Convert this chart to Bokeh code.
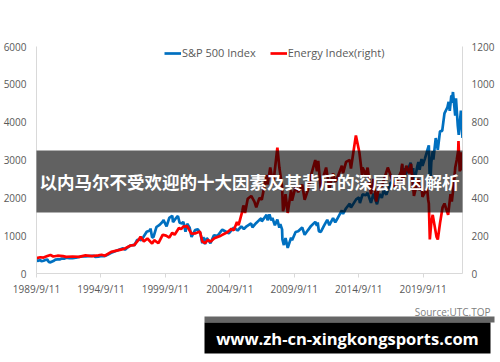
import pandas as pd
from bokeh.plotting import figure
from bokeh.layouts import column
from bokeh.core.properties import value
from bokeh.models import (Range1d, LinearAxis, FixedTicker, CustomJSTickFormatter,
                          BoxAnnotation, Label)
from bokeh.embed import file_html
from bokeh.resources import INLINE

# ---------------- data ----------------
series_names = ["S&P 500 Index", "Energy Index(right)"]

sp_dates = [
    "1989-09-11", "1989-10-13", "1989-12-29", "1990-01-30", "1990-03-30", "1990-05-31",
    "1990-07-16", "1990-08-23", "1990-10-11", "1990-12-31", "1991-02-28", "1991-04-30",
    "1991-06-28", "1991-08-30", "1991-10-31", "1991-12-31", "1992-03-31", "1992-06-30",
    "1992-09-30", "1992-12-31", "1993-03-31", "1993-06-30", "1993-09-30", "1993-12-31",
    "1994-02-28", "1994-04-04", "1994-06-30", "1994-09-30", "1994-12-30", "1995-03-31",
    "1995-06-30", "1995-09-29", "1995-12-29", "1996-03-29", "1996-05-31", "1996-07-24",
    "1996-09-30", "1996-12-31", "1997-03-31", "1997-04-11", "1997-06-30", "1997-08-29",
    "1997-10-27", "1997-12-31", "1998-03-31", "1998-06-30", "1998-07-17", "1998-08-31",
    "1998-10-08", "1998-12-31", "1999-03-31", "1999-06-30", "1999-07-16", "1999-10-15",
    "1999-12-31", "2000-03-24", "2000-04-14", "2000-06-30", "2000-09-01", "2000-10-18",
    "2000-12-29", "2001-01-31", "2001-04-04", "2001-05-21", "2001-07-31", "2001-09-21",
    "2001-12-31", "2002-03-19", "2002-05-31", "2002-07-23", "2002-08-22", "2002-10-09",
    "2002-11-27", "2003-03-11", "2003-06-17", "2003-09-30", "2003-12-31", "2004-02-11",
    "2004-08-12", "2004-12-31", "2005-04-20", "2005-08-02", "2005-10-13", "2005-12-30",
    "2006-05-05", "2006-06-13", "2006-09-29", "2006-12-29", "2007-02-20", "2007-03-05",
    "2007-07-19", "2007-08-15", "2007-10-09", "2007-11-26", "2007-12-31", "2008-03-10",
    "2008-05-19", "2008-07-15", "2008-08-11", "2008-09-30", "2008-10-10", "2008-11-20",
    "2009-01-06", "2009-03-09", "2009-06-12", "2009-07-10", "2009-10-19", "2009-12-31",
    "2010-04-23", "2010-07-02", "2010-09-30", "2010-12-31", "2011-04-29", "2011-06-15",
    "2011-07-07", "2011-08-08", "2011-10-03", "2011-12-30", "2012-04-02", "2012-06-01",
    "2012-09-14", "2012-11-15", "2012-12-31", "2013-05-21", "2013-06-24", "2013-09-18",
    "2013-12-31", "2014-02-03", "2014-06-30", "2014-09-18", "2014-10-15", "2014-12-29",
    "2015-03-31", "2015-05-21", "2015-08-25", "2015-11-03", "2016-02-11", "2016-04-20",
    "2016-06-27", "2016-08-15", "2016-11-04", "2016-12-30", "2017-03-01", "2017-06-30",
    "2017-09-29", "2017-12-29", "2018-01-26", "2018-02-08", "2018-03-09", "2018-04-02",
    "2018-06-29", "2018-09-20", "2018-10-29", "2018-12-03", "2018-12-24", "2019-03-29",
    "2019-04-30", "2019-06-03", "2019-07-26", "2019-08-23", "2019-10-31", "2019-12-31",
    "2020-02-19", "2020-03-23", "2020-04-29", "2020-06-08", "2020-06-26", "2020-09-02",
    "2020-10-30", "2020-12-31", "2021-03-04", "2021-05-07", "2021-07-30", "2021-09-02",
    "2021-10-04", "2021-11-18", "2021-12-01", "2022-01-03", "2022-03-08", "2022-03-29",
    "2022-05-20", "2022-06-16", "2022-08-16", "2022-09-30",
]
sp_values = [
    350, 333, 353, 322, 339, 361,
    369, 307, 295, 330, 367, 375,
    371, 395, 392, 417, 404, 408,
    418, 436, 451, 450, 459, 466,
    467, 438, 444, 463, 459, 500,
    545, 584, 616, 645, 669, 627,
    687, 741, 757, 737, 885, 899,
    877, 970, 1102, 1134, 1187, 957,
    960, 1229, 1286, 1373, 1419, 1247,
    1469, 1527, 1357, 1455, 1521, 1342,
    1320, 1366, 1103, 1312, 1211, 966,
    1148, 1170, 1067, 797, 962, 777,
    938, 800, 1011, 996, 1112, 1157,
    1064, 1212, 1137, 1245, 1177, 1248,
    1326, 1223, 1336, 1418, 1460, 1374,
    1553, 1406, 1565, 1407, 1468, 1273,
    1426, 1214, 1305, 1166, 899, 752,
    935, 677, 946, 879, 1097, 1115,
    1217, 1022, 1141, 1258, 1364, 1265,
    1353, 1119, 1099, 1258, 1419, 1278,
    1466, 1353, 1426, 1669, 1573, 1725,
    1848, 1741, 1960, 2011, 1862, 2090,
    2068, 2131, 1867, 2109, 1829, 2102,
    2000, 2190, 2085, 2239, 2396, 2423,
    2519, 2674, 2873, 2581, 2786, 2582,
    2718, 2931, 2641, 2790, 2351, 2834,
    2946, 2744, 3026, 2847, 3038, 3231,
    3386, 2237, 2940, 3232, 3009, 3580,
    3270, 3756, 3768, 4233, 4395, 4537,
    4300, 4705, 4513, 4797, 4171, 4632,
    3901, 3667, 4305, 3586,
]

en_dates = [
    "1989-09-11", "1989-12-29", "1990-03-30", "1990-07-16", "1990-10-11", "1990-12-31",
    "1991-04-30", "1991-09-30", "1991-12-31", "1992-06-30", "1992-12-31", "1993-06-30",
    "1993-12-31", "1994-06-30", "1994-09-30", "1994-12-30", "1995-06-30", "1995-12-29",
    "1996-06-28", "1996-12-31", "1997-04-11", "1997-08-29", "1997-10-08", "1998-01-09",
    "1998-04-21", "1998-08-31", "1998-10-30", "1999-02-26", "1999-06-30", "1999-09-30",
    "1999-12-31", "2000-03-24", "2000-05-31", "2000-09-29", "2000-11-30", "2001-01-31",
    "2001-05-21", "2001-09-21", "2001-12-31", "2002-05-17", "2002-07-23", "2002-10-09",
    "2002-12-31", "2003-03-11", "2003-06-30", "2003-12-31", "2004-06-30", "2004-10-25",
    "2004-12-31", "2005-03-31", "2005-05-16", "2005-08-31", "2005-09-30", "2005-11-15",
    "2006-01-31", "2006-05-10", "2006-08-08", "2006-09-30", "2006-12-29", "2007-03-05",
    "2007-07-19", "2007-08-15", "2007-10-31", "2008-01-22", "2008-05-20", "2008-07-15",
    "2008-09-30", "2008-10-27", "2008-11-20", "2009-01-06", "2009-03-09", "2009-06-12",
    "2009-07-10", "2009-10-19", "2009-12-31", "2010-04-23", "2010-07-02", "2010-09-30",
    "2010-12-31", "2011-04-29", "2011-06-15", "2011-07-22", "2011-10-03", "2011-12-30",
    "2012-03-01", "2012-06-01", "2012-09-14", "2012-11-15", "2012-12-31", "2013-05-21",
    "2013-06-24", "2013-09-18", "2013-12-31", "2014-02-03", "2014-06-23", "2014-09-30",
    "2014-12-15", "2014-12-31", "2015-03-31", "2015-05-21", "2015-08-25", "2015-11-03",
    "2016-01-20", "2016-04-20", "2016-06-27", "2016-08-15", "2016-12-13", "2017-03-01",
    "2017-06-20", "2017-09-29", "2017-12-29", "2018-01-26", "2018-02-08", "2018-05-22",
    "2018-08-15", "2018-10-03", "2018-12-24", "2019-04-23", "2019-06-03", "2019-07-26",
    "2019-08-23", "2019-12-31", "2020-01-31", "2020-02-19", "2020-03-18", "2020-04-29",
    "2020-06-08", "2020-09-23", "2020-10-30", "2020-12-31", "2021-03-15", "2021-05-07",
    "2021-08-19", "2021-10-25", "2021-12-01", "2022-01-31", "2022-03-08", "2022-04-20",
    "2022-05-31", "2022-06-08", "2022-07-14", "2022-08-29", "2022-09-30",
]
en_values = [
    81, 86, 84, 92, 98, 90,
    94, 92, 88, 90, 88, 96,
    92, 96, 99, 94, 114, 122,
    130, 148, 150, 182, 194, 170,
    185, 158, 176, 160, 205, 200,
    190, 215, 205, 240, 235, 248,
    250, 210, 212, 222, 170, 160,
    178, 168, 186, 200, 218, 236,
    228, 272, 255, 330, 360, 320,
    395, 410, 380, 350, 400, 390,
    520, 470, 560, 470, 665, 560,
    460, 330, 345, 420, 320, 440,
    385, 460, 430, 470, 390, 440,
    520, 600, 540, 595, 440, 520,
    560, 450, 530, 485, 500, 570,
    530, 590, 600, 555, 730, 640,
    520, 560, 520, 560, 420, 500,
    380, 470, 460, 490, 560, 520,
    460, 500, 540, 580, 480, 570,
    530, 580, 410, 500, 440, 460,
    405, 450, 390, 370, 180, 270,
    310, 195, 180, 265, 350, 370,
    310, 420, 380, 480, 560, 600,
    650, 700, 540, 640, 545,
]

x_tick_dates = ["1989-09-11", "1994-09-11", "1999-09-11", "2004-09-11",
                "2009-09-11", "2014-09-11", "2019-09-11"]
x_tick_labels = ["1989/9/11", "1994/9/11", "1999/9/11", "2004/9/11",
                 "2009/9/11", "2014/9/11", "2019/9/11"]
left_ticks = [0, 1000, 2000, 3000, 4000, 5000, 6000]
right_ticks = [0, 200, 400, 600, 800, 1000, 1200]

title_text = "以内马尔不受欢迎的十大因素及其背后的深层原因解析"
url_text = "www.zh-cn-xingkongsports.com"
source_text = "Source:UTC.TOP"

# ---------------- main chart ----------------
FONT = "Open Sans"
AX_COLOR = "#d9d9d9"
TXT_COLOR = "#595959"

sp_x = pd.to_datetime(sp_dates)
en_x = pd.to_datetime(en_dates)
tick_ms = [int(pd.Timestamp(d).value // 10**6) for d in x_tick_dates]

p = figure(x_axis_type="datetime", width=500, height=300,
           min_border_left=36, min_border_right=38, min_border_top=46, min_border_bottom=27,
           x_range=Range1d(pd.Timestamp("1989-09-11"), pd.Timestamp("2022-09-30")),
           y_range=Range1d(0, 6000),
           output_backend="svg", toolbar_location=None)
p.extra_y_ranges = {"right": Range1d(0, 1200)}
p.outline_line_color = None
p.xgrid.visible = False
p.ygrid.visible = False
p.background_fill_color = "white"
p.border_fill_color = "white"

right_axis = LinearAxis(y_range_name="right")
p.add_layout(right_axis, "right")

for ax in [p.xaxis[0], p.yaxis[0], right_axis]:
    ax.axis_line_color = AX_COLOR
    ax.axis_line_width = 1
    ax.minor_tick_line_color = None
    ax.major_label_text_font = FONT
    ax.major_label_text_font_size = "10px"
    ax.major_label_text_color = TXT_COLOR

p.xaxis[0].ticker = FixedTicker(ticks=tick_ms)
p.xaxis[0].formatter = CustomJSTickFormatter(
    args=dict(tick_vals=tick_ms, tick_names=x_tick_labels),
    code="const i = tick_vals.indexOf(tick); return i >= 0 ? tick_names[i] : '';")
p.xaxis[0].major_tick_line_color = AX_COLOR
p.xaxis[0].major_tick_out = 4
p.xaxis[0].major_tick_in = 0
p.xaxis[0].major_label_standoff = 4

p.yaxis[0].ticker = FixedTicker(ticks=left_ticks)
p.yaxis[0].major_tick_line_color = None
p.yaxis[0].major_tick_out = 0
p.yaxis[0].major_tick_in = 0
p.yaxis[0].major_label_standoff = 10

right_axis.ticker = FixedTicker(ticks=right_ticks)
right_axis.major_tick_line_color = None
right_axis.major_tick_out = 0
right_axis.major_tick_in = 0
right_axis.major_label_standoff = 9

p.line(sp_x, sp_values, line_color="#0070C0", line_width=2.7, legend_label=series_names[0])
p.line(en_x, en_values, line_color="#FF0000", line_width=2.7, y_range_name="right",
       legend_label=series_names[1])

lg = p.legend[0]
lg.orientation = "horizontal"
lg.location = (128, 213)
lg.background_fill_alpha = 0
lg.border_line_color = None
lg.padding = 0
lg.margin = 0
lg.spacing = 14
lg.glyph_width = 17
lg.glyph_height = 14
lg.label_height = 14
lg.label_standoff = 1
lg.label_text_font = FONT
lg.label_text_font_size = "11px"
lg.label_text_color = TXT_COLOR

# dark translucent band across the chart with the headline
p.add_layout(BoxAnnotation(left=10, right=490, top=150, bottom=212,
                           left_units="canvas", right_units="canvas",
                           top_units="canvas", bottom_units="canvas",
                           fill_color="black", fill_alpha=0.62, line_color=None))
# headline kept inside the plot frame (annotations are clipped to it)
p.add_layout(Label(x=249, y=181, x_units="canvas", y_units="canvas", text=title_text,
                   text_align="center", text_baseline="middle",
                   text_font="Noto Sans CJK SC", text_font_style="bold",
                   text_font_size="17.5px", text_color="white"))

# ---------------- footer strip (watermark) ----------------
f = figure(width=500, height=62, x_range=Range1d(0, 500), y_range=Range1d(62, 0),
           min_border=0, x_axis_location=None, y_axis_location=None,
           output_backend="svg", toolbar_location=None)
f.outline_line_color = None
f.xgrid.visible = False
f.ygrid.visible = False
f.background_fill_color = "white"
f.border_fill_color = "white"

for fig in (p, f):
    try:
        fig.frame_align = False
    except Exception:
        pass

f.quad(left=[204], right=[494], top=[16], bottom=[22], fill_color="#666666", line_color=None)
f.quad(left=[204], right=[490], top=[22], bottom=[53], fill_color="black", line_color=None)
f.text(x=[490], y=[11], text=[source_text], text_align="right", text_baseline="middle",
       text_font=value(FONT), text_font_size="10px", text_color="#7f7f7f")
f.text(x=[347], y=[37.5], text=[url_text], text_align="center", text_baseline="middle",
       text_font=value(FONT), text_font_style="bold", text_font_size="16.5px",
       text_color="white")

layout = column(p, f, spacing=0)
open("out.html", "w").write(file_html(layout, INLINE))
